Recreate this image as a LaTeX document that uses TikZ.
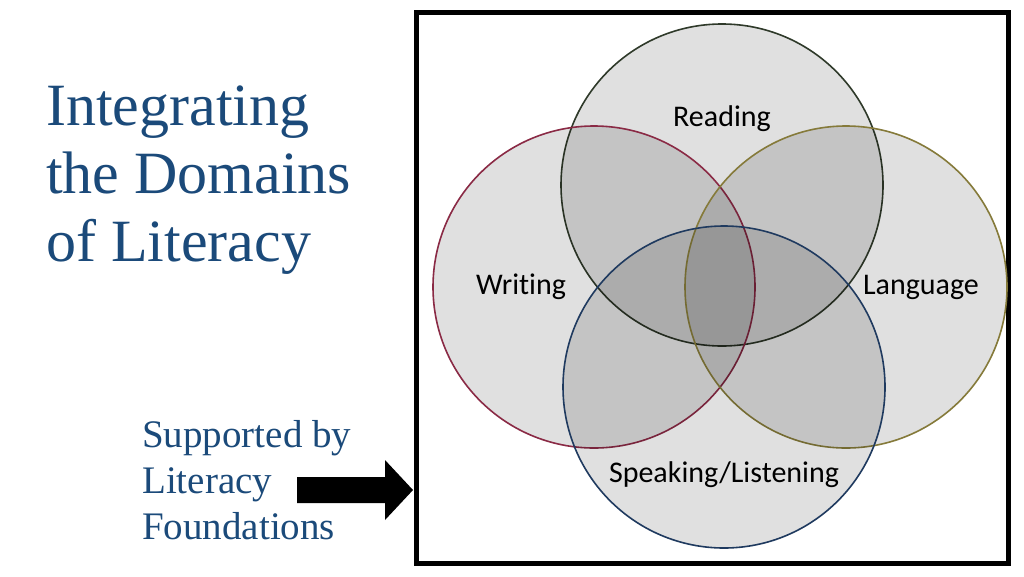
\documentclass[tikz,border=0pt]{standalone}
\usepackage{fontspec}
\setmainfont{Liberation Serif}
\newfontfamily\lab[RawFeature=-liga]{Carlito}
\definecolor{ttl}{HTML}{1B4A7A}
\definecolor{cR}{HTML}{2F3A2A}
\definecolor{cW}{HTML}{8A2A45}
\definecolor{cL}{HTML}{857A3A}
\definecolor{cS}{HTML}{1F3A5F}
\begin{document}
\begin{tikzpicture}[x=1pt,y=-1pt,
  ring/.style={line width=1.6pt, fill=black, fill opacity=0.12},
  lbl/.style={font=\lab\fontsize{30}{34}\selectfont, text=black}]
\useasboundingbox (0,0) rectangle (1024,576);
\fill[white] (0,0) rectangle (1024,576);
\draw[line width=5pt] (416,12) rectangle (1008,563);
\draw[ring, draw=cR] (722,185) circle[radius=161];
\draw[ring, draw=cW] (594,287) circle[radius=161];
\draw[ring, draw=cL] (846,287) circle[radius=161];
\draw[ring, draw=cS] (724,387) circle[radius=161];
\node[lbl] (r) at (722,119) {Reading};
\node[lbl] (w) at (521,287) {Writing};
\node[lbl] (l) at (921,287) {Language};
\node[lbl] (s) at (724,475) {Speaking/Listening};
\node[anchor=north west, align=left, text=ttl, font=\fontsize{60}{68}\selectfont, inner sep=0] (t) at (46,86) {Integrating\\the Domains\\of Literacy};
\node[anchor=north west, align=left, text=ttl, font=\fontsize{39}{46}\selectfont, inner sep=0] (sp) at (142,420) {Supported by\\Literacy\\Foundations};
\fill[black] (297,477) -- (385,477) -- (385,460) -- (413,490) -- (385,520) -- (385,503) -- (297,503) -- cycle;
\end{tikzpicture}
\end{document}
